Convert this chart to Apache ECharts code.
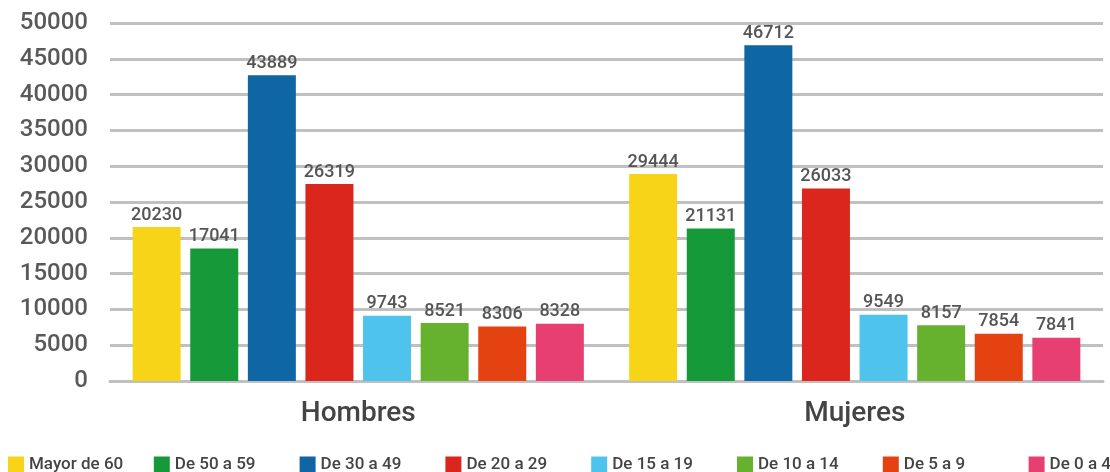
<!DOCTYPE html>
<html>
<head>
<meta charset="utf-8">
<script src="https://cdn.jsdelivr.net/npm/echarts@6/dist/echarts.min.js"></script>
<style>
  html, body { margin: 0; padding: 0; background: #fff; }
  #chart { width: 1110px; height: 472px; }
</style>
</head>
<body>
<div id="chart"></div>
<script>
const categories = ['Hombres', 'Mujeres']
const groups = ['Mayor de 60', 'De 50 a 59', 'De 30 a 49', 'De 20 a 29', 'De 15 a 19', 'De 10 a 14', 'De 5 a 9', 'De 0 a 4']
const colors = ['#F7D417', '#169938', '#0E66A4', '#DB261D', '#4EC3EC', '#66B22E', '#E54212', '#E83F72']

// bar heights as drawn
const hombres = [21500, 18500, 42700, 27500, 9100, 8100, 7600, 8000]
const mujeres = [28900, 21300, 46900, 26900, 9250, 7800, 6600, 6050]

// numbers printed above the bars
const hombresLabels = ['20230', '17041', '43889', '26319', '9743', '8521', '8306', '8328']
const mujeresLabels = ['29444', '21131', '46712', '26033', '9549', '8157', '7854', '7841']

const chart = echarts.init(document.getElementById('chart'))

const series = groups.map((name, i) => ({
  name: name,
  type: 'bar',
  barWidth: 48,
  barGap: '20%',
  data: [hombres[i], mujeres[i]],
  itemStyle: { color: colors[i] },
  label: {
    show: true,
    position: 'top',
    distance: 3,
    fontSize: 18,
    fontFamily: 'Roboto',
    fontWeight: 500,
    color: '#555',
    formatter: p => (p.dataIndex === 0 ? hombresLabels : mujeresLabels)[i]
  }
}))

const legends = groups.map((name, i) => ({
  data: [name],
  left: 8 + i * 145.8,
  top: 456,
  itemWidth: 16,
  itemHeight: 16,
  itemGap: 0,
  icon: 'rect',
  padding: 0,
  textStyle: { fontSize: 17, fontFamily: 'Roboto', fontWeight: 500, color: '#444' }
}))

chart.setOption({
  animation: false,
  textStyle: { fontFamily: 'Roboto' },
  legend: legends,
  grid: { left: 110, right: 7, top: 23, bottom: 91 },
  xAxis: {
    type: 'category',
    data: categories,
    axisLine: { lineStyle: { color: '#c0c0c0', width: 3 } },
    axisTick: { show: false },
    axisLabel: { fontSize: 28, fontWeight: 500, color: '#444', margin: 19, fontFamily: 'Roboto' }
  },
  yAxis: {
    type: 'value',
    min: 0,
    max: 50000,
    interval: 5000,
    axisLine: { show: false },
    axisTick: { show: false },
    axisLabel: {
      fontSize: 24,
      fontWeight: 500,
      color: '#595959',
      margin: 22,
      fontFamily: 'Roboto',
      formatter: v => String(v)
    },
    splitLine: { lineStyle: { color: '#c0c0c0', width: 3 } }
  },
  series: series
})
</script>
</body>
</html>
